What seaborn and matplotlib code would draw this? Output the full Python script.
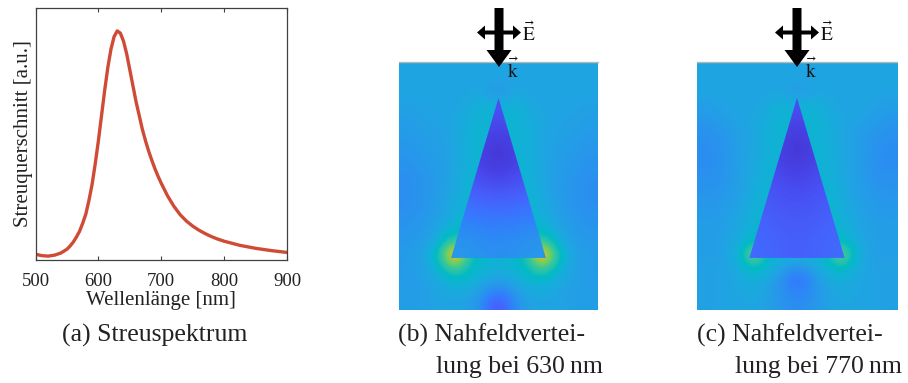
import numpy as np
import matplotlib
matplotlib.use("Agg")
import matplotlib.pyplot as plt
from matplotlib.colors import LinearSegmentedColormap
from matplotlib.patches import Polygon
import seaborn as sns

# ---------------------------------------------------------------- data
# scattering spectrum of the nano-triangle (normalised to the peak)
wavelength_nm = [500, 510, 520, 530, 540, 550, 555, 560, 565, 570, 575, 580,
                 585, 590, 595, 600, 605, 610, 615, 620, 625, 630, 635, 640,
                 645, 650, 655, 660, 665, 670, 675, 680, 685, 690, 695, 700,
                 710, 720, 730, 740, 750, 760, 770, 780, 790, 800, 825, 850,
                 875, 900]
scattering_au = [0.025, 0.019, 0.017, 0.021, 0.030, 0.047, 0.061, 0.078,
                 0.100, 0.125, 0.160, 0.200, 0.260, 0.330, 0.420, 0.520,
                 0.630, 0.740, 0.840, 0.920, 0.975, 1.000, 0.990, 0.955,
                 0.900, 0.830, 0.760, 0.690, 0.630, 0.570, 0.520, 0.475,
                 0.435, 0.398, 0.365, 0.335, 0.280, 0.235, 0.198, 0.170,
                 0.148, 0.130, 0.115, 0.102, 0.091, 0.082, 0.064, 0.051,
                 0.041, 0.033]
wavelength_ticks = [500, 600, 700, 800, 900]

# near-field magnitude (colour-scale units 0..100), 630 nm, around the triangle
field_630_outside = [
    [38, 38, 38, 38, 38, 38, 38, 38, 38, 38, 38, 38, 38, 38, 38, 38],
    [38, 38, 38, 38, 38, 38, 38, 38, 38, 38, 38, 38, 38, 38, 38, 38],
    [38, 38, 38, 38, 38, 38, 40, 34, 34, 40, 38, 38, 38, 38, 38, 38],
    [37, 37, 38, 38, 38, 40, 43, 43, 43, 43, 40, 38, 38, 38, 37, 37],
    [36, 37, 37, 38, 39, 41, 44, 44, 44, 44, 41, 39, 38, 37, 37, 36],
    [35, 36, 37, 37, 39, 42, 44, 44, 44, 44, 42, 39, 37, 37, 36, 35],
    [34, 35, 36, 37, 39, 42, 44, 44, 44, 44, 42, 39, 37, 36, 35, 34],
    [33, 34, 35, 36, 39, 42, 44, 44, 44, 44, 42, 39, 36, 35, 34, 33],
    [32, 33, 35, 36, 39, 43, 44, 44, 44, 44, 43, 39, 36, 35, 33, 32],
    [31, 32, 34, 36, 39, 43, 44, 44, 44, 44, 43, 39, 36, 34, 32, 31],
    [31, 32, 34, 36, 40, 44, 44, 44, 44, 44, 44, 40, 36, 34, 32, 31],
    [31, 32, 34, 37, 41, 44, 44, 44, 44, 44, 44, 41, 37, 34, 32, 31],
    [32, 33, 35, 38, 42, 45, 44, 44, 44, 44, 45, 42, 38, 35, 33, 32],
    [33, 34, 36, 41, 46, 46, 44, 44, 44, 44, 46, 46, 41, 36, 34, 33],
    [34, 35, 38, 46, 58, 48, 44, 44, 44, 44, 48, 58, 46, 38, 35, 34],
    [35, 36, 42, 58, 95, 56, 45, 44, 44, 45, 56, 95, 58, 42, 36, 35],
    [35, 36, 40, 50, 62, 50, 45, 43, 43, 45, 50, 62, 50, 40, 36, 35],
    [35, 36, 38, 42, 46, 45, 42, 38, 38, 42, 45, 46, 42, 38, 36, 35],
    [36, 36, 37, 39, 40, 40, 36, 28, 28, 36, 40, 40, 39, 37, 36, 36],
    [36, 36, 37, 38, 38, 37, 32, 18, 18, 32, 37, 38, 38, 37, 36, 36],
]
# 630 nm, inside the triangle (rows apex -> base)
field_630_inside = [
    [16, 16, 14, 16, 16],
    [14, 12, 10, 12, 14],
    [12, 9, 6, 9, 12],
    [14, 10, 7, 10, 14],
    [18, 16, 14, 16, 18],
    [24, 22, 21, 22, 24],
    [30, 28, 27, 28, 30],
    [34, 32, 31, 32, 34],
]

# 770 nm, around the triangle
field_770_outside = [
    [38, 38, 38, 38, 38, 38, 38, 38, 38, 38, 38, 38, 38, 38, 38, 38],
    [38, 38, 38, 38, 38, 38, 38, 38, 38, 38, 38, 38, 38, 38, 38, 38],
    [38, 38, 38, 38, 38, 38, 39, 35, 35, 39, 38, 38, 38, 38, 38, 38],
    [36, 37, 38, 38, 38, 40, 43, 43, 43, 43, 40, 38, 38, 38, 37, 36],
    [34, 35, 37, 38, 39, 41, 44, 44, 44, 44, 41, 39, 38, 37, 35, 34],
    [32, 33, 35, 37, 39, 42, 44, 44, 44, 44, 42, 39, 37, 35, 33, 32],
    [31, 32, 34, 37, 39, 42, 44, 44, 44, 44, 42, 39, 37, 34, 32, 31],
    [31, 31, 34, 37, 39, 42, 44, 44, 44, 44, 42, 39, 37, 34, 31, 31],
    [31, 31, 34, 37, 40, 43, 44, 44, 44, 44, 43, 40, 37, 34, 31, 31],
    [32, 32, 34, 37, 40, 43, 44, 44, 44, 44, 43, 40, 37, 34, 32, 32],
    [33, 33, 35, 37, 41, 44, 44, 44, 44, 44, 44, 41, 37, 35, 33, 33],
    [34, 34, 36, 38, 42, 44, 44, 44, 44, 44, 44, 42, 38, 36, 34, 34],
    [35, 35, 37, 39, 43, 45, 44, 44, 44, 44, 45, 43, 39, 37, 35, 35],
    [36, 36, 37, 40, 44, 45, 44, 44, 44, 44, 45, 44, 40, 37, 36, 36],
    [36, 36, 38, 42, 48, 46, 44, 44, 44, 44, 46, 48, 42, 38, 36, 36],
    [36, 36, 38, 46, 70, 48, 44, 43, 43, 44, 48, 70, 46, 38, 36, 36],
    [37, 37, 38, 42, 50, 45, 40, 34, 34, 40, 45, 50, 42, 38, 37, 37],
    [37, 37, 38, 40, 42, 40, 34, 24, 24, 34, 40, 42, 40, 38, 37, 37],
    [37, 37, 38, 39, 40, 38, 33, 28, 28, 33, 38, 40, 39, 38, 37, 37],
    [37, 37, 38, 38, 39, 37, 34, 31, 31, 34, 37, 39, 38, 38, 37, 37],
]
# 770 nm, inside the triangle
field_770_inside = [
    [16, 15, 13, 15, 16],
    [14, 11, 8, 11, 14],
    [13, 9, 6, 9, 13],
    [14, 11, 8, 11, 14],
    [16, 14, 12, 14, 16],
    [18, 16, 15, 16, 18],
    [20, 18, 17, 18, 20],
    [21, 19, 18, 19, 21],
]

caption_a = "(a) Streuspektrum"
captions_bc = [("(b) Nahfeldvertei-", "lung bei 630\u2009nm"),
               ("(c) Nahfeldvertei-", "lung bei 770\u2009nm")]

# ---------------------------------------------------------------- style
sns.set_theme(style="white")
plt.rcParams["font.family"] = ["Liberation Serif", "DejaVu Serif"]
plt.rcParams["mathtext.fontset"] = "stix"

# parula colour map
parula_stops = [
    (0.2422, 0.1504, 0.6603), (0.2647, 0.1978, 0.7952), (0.2783, 0.2559, 0.8991),
    (0.2810, 0.3228, 0.9579), (0.2699, 0.3892, 0.9906), (0.2206, 0.4603, 0.9973),
    (0.1786, 0.5289, 0.9682), (0.1540, 0.5902, 0.9218), (0.1248, 0.6459, 0.8883),
    (0.0689, 0.6948, 0.8394), (0.0067, 0.7312, 0.7660), (0.1408, 0.7584, 0.6842),
    (0.2161, 0.7843, 0.5923), (0.3406, 0.8008, 0.4789), (0.5044, 0.7993, 0.3480),
    (0.6720, 0.7793, 0.2227), (0.8203, 0.7498, 0.1535), (0.9393, 0.7288, 0.2100),
    (0.9970, 0.7659, 0.2199), (0.9786, 0.8386, 0.1766), (0.9597, 0.9135, 0.1423),
    (0.9769, 0.9839, 0.0805)]
parula = LinearSegmentedColormap.from_list("parula", parula_stops)

W, H = 908, 383
fig = plt.figure(figsize=(W / 100, H / 100), dpi=100)


def px_box(x0, y0, x1, y1):
    return [x0 / W, 1 - y1 / H, (x1 - x0) / W, (y1 - y0) / H]


def px(x, y):
    return (x / W, 1 - y / H)


# ---------------------------------------------------------------- (a) spectrum
ax = fig.add_axes(px_box(35.5, 8, 287, 260))
sns.lineplot(x=wavelength_nm, y=scattering_au, ax=ax, color="#cf4b36",
             linewidth=2.4)
ax.set_xlim(500, 900)
ax.set_ylim(0, 1.10)
ax.set_xticks(wavelength_ticks)
ax.set_yticks([])
ax.tick_params(axis="x", direction="in", top=True, bottom=True, length=3,
               width=0.8, color="#404040", labelsize=13.5, pad=9,
               labelcolor="#222222")
for s in ax.spines.values():
    s.set_color("#404040")
    s.set_linewidth(0.9)
ax.set_xlabel("Wellenlänge [nm]", fontsize=15, color="#222222", labelpad=1)
ax.set_ylabel("Streuquerschnitt [a.u.]", fontsize=15, color="#222222",
              labelpad=2)

# ---------------------------------------------------------------- (b), (c) near fields
apex = (0.5, 0.145)
base_left = (0.262, 0.79)
base_right = (0.738, 0.79)


def field_panel(box, outside, inside):
    a = fig.add_axes(box)
    a.imshow(np.array(outside, float), cmap=parula, vmin=0, vmax=100,
             extent=[0, 1, 1, 0], interpolation="bicubic", aspect="auto")
    im = a.imshow(np.array(inside, float), cmap=parula, vmin=0, vmax=100,
                  extent=[base_left[0], base_right[0], base_left[1], apex[1]],
                  interpolation="bicubic", aspect="auto")
    tri = Polygon([apex, base_left, base_right], closed=True,
                  transform=a.transData, facecolor="none", edgecolor="none",
                  joinstyle="round")
    a.add_patch(tri)
    im.set_clip_path(tri)
    a.set_xlim(0, 1)
    a.set_ylim(1, 0)
    a.set_xticks([])
    a.set_yticks([])
    for k, s in a.spines.items():
        s.set_visible(k == "top")
    a.spines["top"].set_color("#b8b8b8")
    a.spines["top"].set_linewidth(1.0)
    return a


field_panel(px_box(399, 62, 598, 310), field_630_outside, field_630_inside)
field_panel(px_box(697, 62, 897, 310), field_770_outside, field_770_inside)


# incident wave: k downwards, E horizontal
def wave_symbol(cx):
    down = [px(cx - 4.5, 8), px(cx + 4.5, 8), px(cx + 4.5, 50),
            px(cx + 12.5, 50), px(cx, 67), px(cx - 12.5, 50), px(cx - 4.5, 50)]
    fig.add_artist(Polygon(down, closed=True, facecolor="black",
                           edgecolor="none", transform=fig.transFigure))
    xl, xr, yc = cx - 22, cx + 22, 32.5
    horiz = [px(xl, yc), px(xl + 8, yc - 7), px(xl + 8, yc - 2),
             px(xr - 8, yc - 2), px(xr - 8, yc - 7), px(xr, yc),
             px(xr - 8, yc + 7), px(xr - 8, yc + 2), px(xl + 8, yc + 2),
             px(xl + 8, yc + 7)]
    fig.add_artist(Polygon(horiz, closed=True, facecolor="black",
                           edgecolor="none", transform=fig.transFigure))
    fig.text(*px(cx + 23, 33), r"$\vec{\mathrm{E}}$", fontsize=14,
             ha="left", va="center", color="#111111")
    fig.text(*px(cx + 8, 70), r"$\vec{\mathrm{k}}$", fontsize=14,
             ha="left", va="center", color="#111111")


wave_symbol(499)
wave_symbol(797)

# ---------------------------------------------------------------- captions
fig.text(*px(62, 335), caption_a, fontsize=18.5, ha="left", va="center",
         color="#222222")
for (l1, l2), x1, x2 in zip(captions_bc, [398, 697], [436, 735]):
    fig.text(*px(x1, 335), l1, fontsize=18.5, ha="left", va="center",
             color="#222222")
    fig.text(*px(x2, 367), l2, fontsize=18.5, ha="left", va="center",
             color="#222222")

fig.savefig("out.png", dpi=100)
